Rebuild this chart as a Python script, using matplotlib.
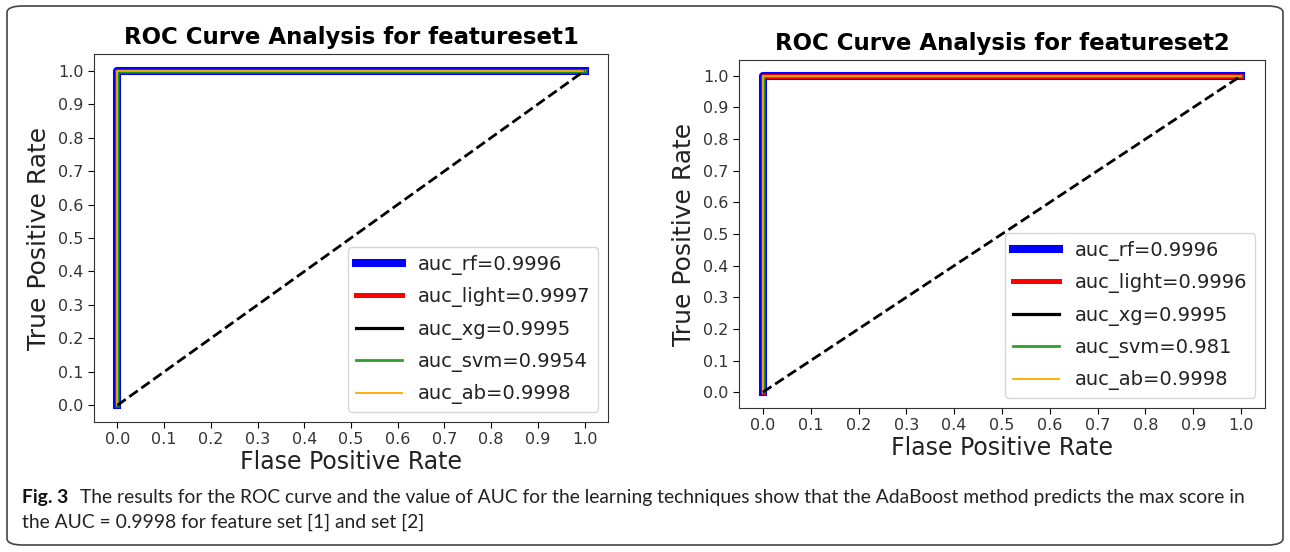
import matplotlib
matplotlib.use("Agg")
import matplotlib.pyplot as plt
from matplotlib.patches import FancyBboxPatch

# ---- data ----
models = ["rf", "light", "xg", "svm", "ab"]
auc_set1 = [0.9996, 0.9997, 0.9995, 0.9954, 0.9998]
auc_set2 = [0.9996, 0.9996, 0.9995, 0.981, 0.9998]
fpr_curve = [0.0, 0.0, 1.0]
tpr_curve = [0.0, 1.0, 1.0]
diag_x = [0.0, 1.0]
diag_y = [0.0, 1.0]
ticks = [0.0, 0.1, 0.2, 0.3, 0.4, 0.5, 0.6, 0.7, 0.8, 0.9, 1.0]
titles = ["ROC Curve Analysis for featureset1", "ROC Curve Analysis for featureset2"]

colors = ["blue", "red", "black", "tab:green", "orange"]
widths = [5.8, 3.6, 2.3, 2.0, 1.3]

W, H = 1290, 552
fig = plt.figure(figsize=(W / 100, H / 100), dpi=100)
fig.patch.set_facecolor("white")

def px(x0, y0, x1, y1):
    return [x0 / W, 1 - y1 / H, (x1 - x0) / W, (y1 - y0) / H]

# border
border = FancyBboxPatch((7 / W, 7 / H), (1276) / W, (539) / H,
                        boxstyle="round,pad=0,rounding_size=0.012",
                        transform=fig.transFigure, fill=False,
                        edgecolor="#444444", linewidth=1.2)
fig.patches.append(border)

axes_rects = [px(94, 54, 608, 422), px(739, 60, 1265, 408)]
aucs = [auc_set1, auc_set2]

for i in range(2):
    ax = fig.add_axes(axes_rects[i])
    for m, a, c, lw in zip(models, aucs[i], colors, widths):
        ax.plot(fpr_curve, tpr_curve, color=c, linewidth=lw,
                label=f"auc_{m}={a}")
    ax.plot(diag_x, diag_y, "k--", linewidth=2)
    ax.set_xticks(ticks)
    ax.set_yticks(ticks)
    ax.set_xticklabels([f"{t:.1f}" for t in ticks])
    ax.set_yticklabels([f"{t:.1f}" for t in ticks])
    ax.tick_params(labelsize=11.5, labelcolor="#333333", length=4)
    for s in ax.spines.values():
        s.set_color("#333333")
    ax.set_xlabel("Flase Positive Rate", fontsize=17, color="#222222", labelpad=2)
    ax.set_ylabel("True Positive Rate", fontsize=18, color="#222222", labelpad=5)
    ax.set_title(titles[i], fontsize=16.5, fontweight="bold", pad=7)
    leg = ax.legend(loc="lower right", fontsize=14, labelspacing=0.64,
                    handlelength=2.4, borderaxespad=0.5)
    for t in leg.get_texts():
        t.set_color("#222222")

# caption
fig.text(22 / W, 1 - 497 / H, "Fig. 3", fontsize=13.9, va="center",
         fontweight="bold", family="Lato", color="#111111")
fig.text(80 / W, 1 - 497 / H,
         "The results for the ROC curve and the value of AUC for the learning techniques show that the AdaBoost method predicts the max score in",
         fontsize=13.9, va="center", family="Lato", color="#222222")
fig.text(22 / W, 1 - 522 / H,
         "the AUC = 0.9998 for feature set [1] and set [2]",
         fontsize=13.9, va="center", family=["Lato", "DejaVu Sans"], color="#222222")

fig.savefig("out.png", dpi=100)
